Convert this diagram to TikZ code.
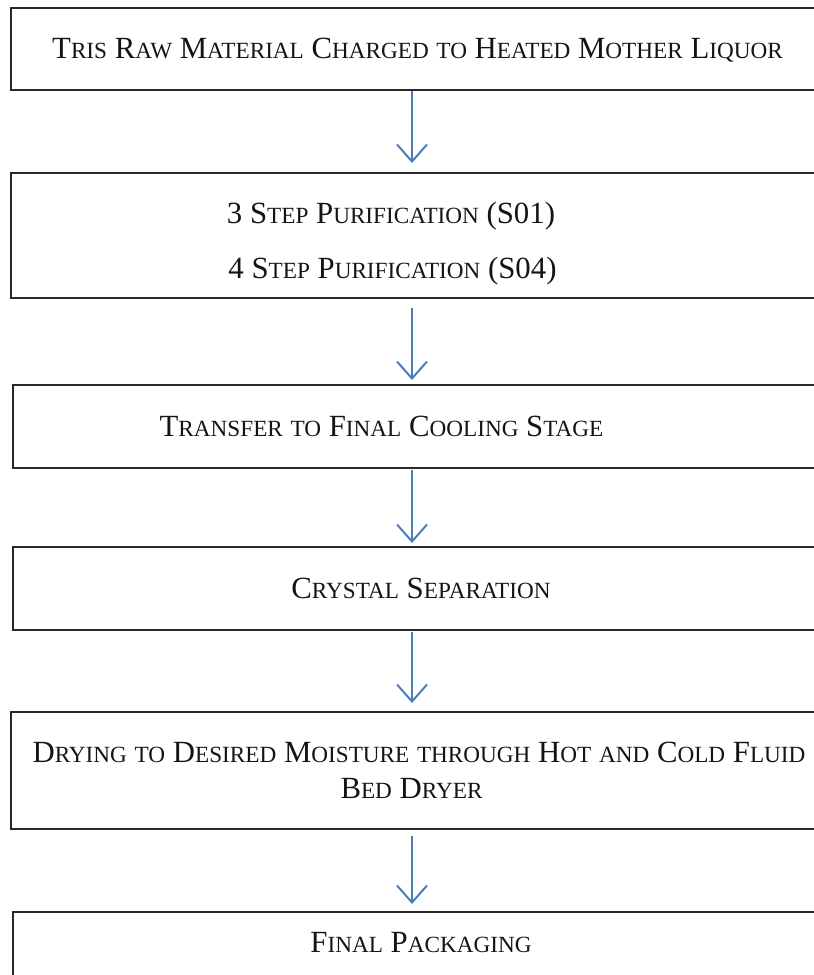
\documentclass[tikz,border=0pt]{standalone}
\usepackage{fontspec}
\setmainfont{Liberation Serif}
\usetikzlibrary{arrows.meta,fit}
\definecolor{arrowblue}{RGB}{74,126,187}
\definecolor{boxline}{RGB}{40,40,40}
\newcommand\Sm[1]{{\fontsize{17.4}{20}\selectfont #1}}
\begin{document}
\begin{tikzpicture}[x=0.75pt,y=-0.75pt,
  box/.style={draw=boxline, line width=1pt, inner sep=0pt},
  lbl/.style={anchor=base, inner sep=0pt, font=\fontsize{23.1}{27}\selectfont, text=black!92},
  flow/.style={draw=arrowblue, line width=1.5pt, -{Straight Barb[length=12.75pt,width=22.5pt]}}]
\useasboundingbox (0,0) rectangle (814,975);
\clip (0,0) rectangle (814,975);
% boxes
\node[box, fit={(11,8) (840,90)}] (b1) {};
\node[box, fit={(11,173) (840,298)}] (b2) {};
\node[box, fit={(13,385) (840,468)}] (b3) {};
\node[box, fit={(13,547) (840,630)}] (b4) {};
\node[box, fit={(11,712) (840,829)}] (b5) {};
\node[box, fit={(13,912) (840,1000)}] (b6) {};
% texts
\node[lbl] (t1) at (417.5,58.3) {T\Sm{RIS} R\Sm{AW} M\Sm{ATERIAL} C\Sm{HARGED} \Sm{TO} H\Sm{EATED} M\Sm{OTHER} L\Sm{IQUOR}};
\node[lbl] (t2a) at (391,223.3) {3 S\Sm{TEP} P\Sm{URIFICATION} (S01)};
\node[lbl] (t2b) at (392.5,278.3) {4 S\Sm{TEP} P\Sm{URIFICATION} (S04)};
\node[lbl] (t3) at (381.5,436.5) {T\Sm{RANSFER} \Sm{TO} F\Sm{INAL} C\Sm{OOLING} S\Sm{TAGE}};
\node[lbl] (t4) at (421,598) {C\Sm{RYSTAL} S\Sm{EPARATION}};
\node[lbl] (t5a) at (419,762.3) {D\Sm{RYING} \Sm{TO} D\Sm{ESIRED} M\Sm{OISTURE} \Sm{THROUGH} H\Sm{OT} \Sm{AND} C\Sm{OLD} F\Sm{LUID}};
\node[lbl] (t5b) at (411.5,798) {B\Sm{ED} D\Sm{RYER}};
\node[lbl] (t6) at (421,952) {F\Sm{INAL} P\Sm{ACKAGING}};
% arrow ends
\coordinate (a1s) at (412,91);  \coordinate (a1e) at (412,163);
\coordinate (a2s) at (412,308); \coordinate (a2e) at (412,380);
\coordinate (a3s) at (412,470); \coordinate (a3e) at (412,543);
\coordinate (a4s) at (412,632); \coordinate (a4e) at (412,703);
\coordinate (a5s) at (412,836); \coordinate (a5e) at (412,904);
\draw[flow] (a1s) -- (a1e);
\draw[flow] (a2s) -- (a2e);
\draw[flow] (a3s) -- (a3e);
\draw[flow] (a4s) -- (a4e);
\draw[flow] (a5s) -- (a5e);
\end{tikzpicture}
\end{document}
